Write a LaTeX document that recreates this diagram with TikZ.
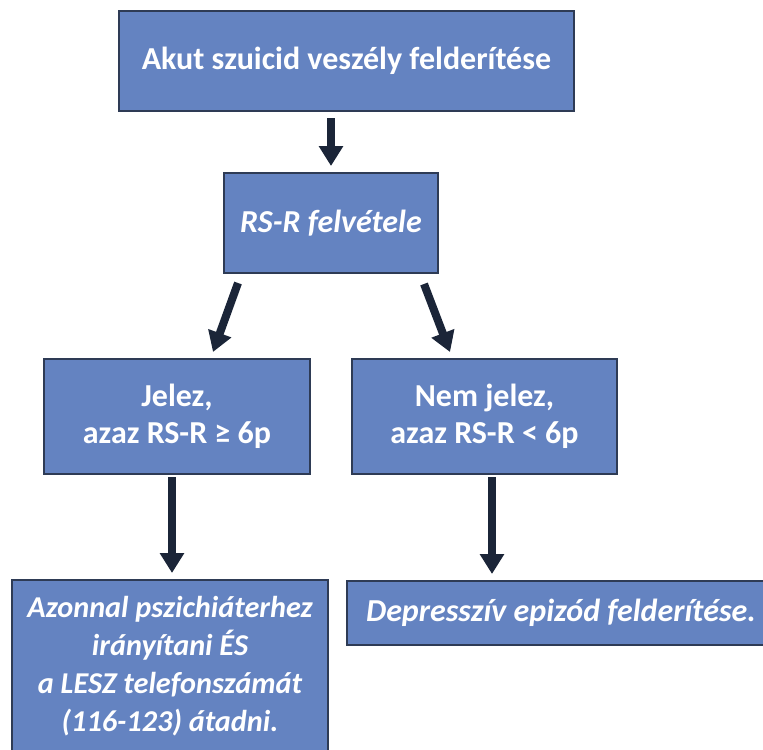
\documentclass[tikz,border=0pt]{standalone}
\usepackage{fontspec}
\setmainfont{Carlito}
\usetikzlibrary{arrows.meta,calc}
\definecolor{boxfill}{HTML}{6483C1}
\definecolor{boxline}{HTML}{2E3B55}
\definecolor{arrowcol}{HTML}{1B2538}
\tikzset{
  box/.style={draw=boxline, line width=1.5pt, fill=boxfill, text=white, align=center,
    font=\fontsize{24}{27.75}\selectfont\bfseries, inner sep=0pt},
  ibox/.style={box, font=\fontsize{24}{27.75}\selectfont\bfseries\itshape},
  sbox/.style={box, font=\fontsize{22.7}{28.5}\selectfont\bfseries\itshape},
  flow/.style={draw=arrowcol, line width=6pt, line cap=butt,
    -{Triangle[width=17.5pt,length=15pt]}, arrowcol}
}
\begin{document}
\begin{tikzpicture}[x=0.75pt,y=-0.75pt]
\useasboundingbox (0,0) rectangle (763,749);
\clip (0,0) rectangle (763,749);
\node[box, minimum width=455*0.75pt, minimum height=100*0.75pt] (b1) at (346.5,61) {Akut szuicid veszély felderítése};
\node[ibox, minimum width=214*0.75pt, minimum height=100*0.75pt] (b2) at (331,223) {RS-R felvétele};
\node[box, minimum width=266*0.75pt, minimum height=115*0.75pt] (b3) at (177,416.5) {Jelez,\\azaz RS-R ≥ 6p};
\node[box, minimum width=265*0.75pt, minimum height=115*0.75pt] (b4) at (484.5,416.5) {Nem jelez,\\azaz RS-R < 6p};
\node[sbox, minimum width=316*0.75pt, minimum height=172*0.75pt] (b5) at (170,666) {Azonnal pszichiáterhez\\irányítani ÉS\\a LESZ telefonszámát\\(116-123) átadni.};
\node[ibox, minimum width=428*0.75pt, minimum height=64*0.75pt] (b6) at (561,613) {Depresszív epizód felderítése.};

\coordinate (a1s) at (b2.north |- b1.south);
\draw[flow, shorten <=4.5pt, shorten >=4.5pt] (a1s) -- (b2.north);
\draw[flow] ($(b2.south west)+(15,9)$) -- ($(b3.north)+(36,-6)$);
\draw[flow] ($(b2.south east)+(-15,10)$) -- ($(b4.north)+(-34.5,-6)$);
\coordinate (a3s) at ($(b3.south)+(-5,2)$);
\draw[flow, shorten >=4.5pt] (a3s) -- (a3s |- b5.north);
\coordinate (a4s) at ($(b4.south)+(7.5,2)$);
\draw[flow, shorten >=4.5pt] (a4s) -- (a4s |- b6.north);
\end{tikzpicture}
\end{document}
